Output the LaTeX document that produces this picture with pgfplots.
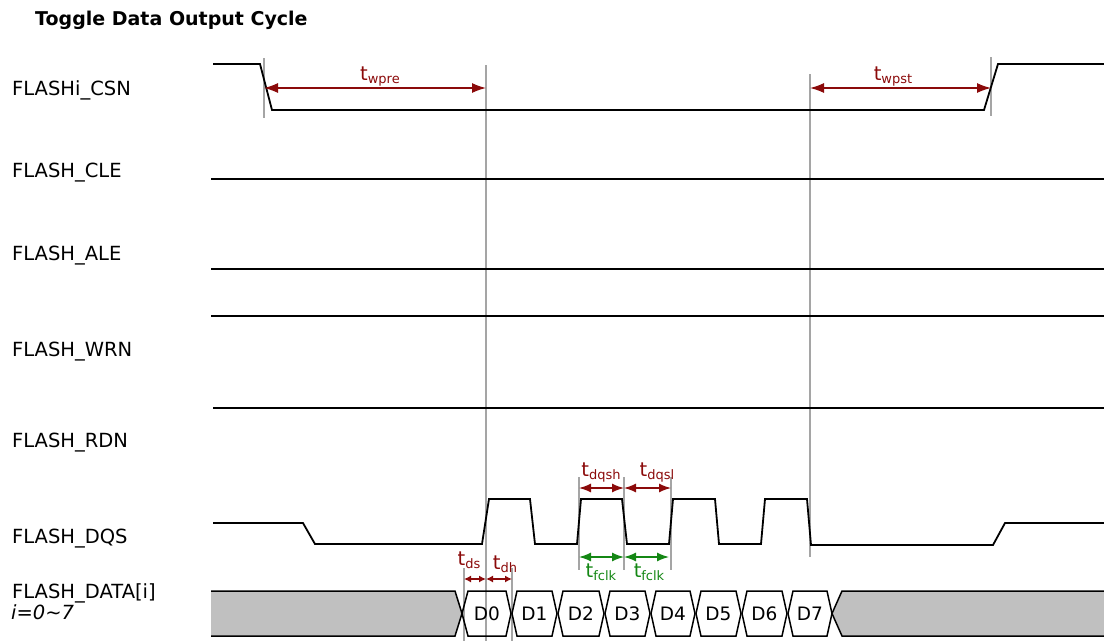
\documentclass[border=0pt]{standalone}
\usepackage{pgfplots}
\pgfplotsset{compat=1.18}
\usepackage{fontspec}
\setmainfont{DejaVu Sans}
\usetikzlibrary{arrows.meta}
\definecolor{dred}{RGB}{139,10,10}
\definecolor{dgreen}{RGB}{20,135,20}
\definecolor{gline}{RGB}{165,165,165}
\definecolor{gfill}{RGB}{192,192,192}
\newcommand{\tl}[1]{t\raisebox{-0.3ex}{\fontsize{13}{13}\selectfont #1}}
\newcommand{\lab}{\fontsize{19.5}{21}\selectfont}
\begin{document}
\begin{tikzpicture}
\begin{axis}[name=ax,width=1104pt,height=641pt,scale only axis,
  xmin=0,xmax=1104,ymin=0,ymax=641,y dir=reverse,
  axis lines=none,clip=false,
  sig/.style={black,line width=1.8pt,line join=miter},
  gl/.style={gline,line width=1.2pt},
  cell/.style={black,line width=1.5pt,line join=miter},
  ar/.style={dred,line width=1.3pt,{Latex[length=14pt,width=10pt]}-{Latex[length=14pt,width=10pt]}},
  ars/.style={dred,line width=1.3pt,{Latex[length=7pt,width=7pt]}-{Latex[length=7pt,width=7pt]}},
  arm/.style={line width=1.4pt,{Latex[length=12pt,width=9pt]}-{Latex[length=12pt,width=9pt]}},
]
% grey guide lines
\addplot[gl] coordinates {(264,58) (264,118)};
\addplot[gl] coordinates {(486,65) (486,641)};
\addplot[gl] coordinates {(810,74) (810,557)};
\addplot[gl] coordinates {(991,57) (991,116)};
\addplot[gl] coordinates {(464,568) (464,641)};
\addplot[gl] coordinates {(512,568) (512,641)};
\addplot[gl] coordinates {(579,477) (579,570)};
\addplot[gl] coordinates {(624,477) (624,570)};
\addplot[gl] coordinates {(671,477) (671,570)};
% signals
\addplot[sig] coordinates {(213,64) (260,64) (272,110) (984,110) (998,64) (1104,64)};
\addplot[sig] coordinates {(211,179) (1104,179)};
\addplot[sig] coordinates {(211,269) (1104,269)};
\addplot[sig] coordinates {(211,316) (1104,316)};
\addplot[sig] coordinates {(213,408) (1104,408)};
\addplot[sig] coordinates {(213,523) (303,523) (315,544) (482,544) (489,499) (530,499) (535,544) (577,544) (581,499) (622,499) (627,544) (669,544) (673,499) (715,499) (719,544) (761,544) (765,499) (807,499) (811,545) (993,545) (1005,523) (1104,523)};
% data bus
\addplot[fill=gfill,draw=none] coordinates {(211,591) (455,591) (462,613.5) (455,636) (211,636) (211,591)};
\addplot[cell] coordinates {(211,591) (455,591) (462,613.5) (455,636) (211,636)};
\addplot[fill=gfill,draw=none] coordinates {(832,613.5) (842,591) (1104,591) (1104,636) (842,636) (832,613.5)};
\addplot[cell] coordinates {(1104,591) (842,591) (832,613.5) (842,636) (1104,636)};
\addplot[cell] coordinates {(462,613.5) (468,591) (506,591) (511,613.5) (506,636) (468,636) (462,613.5)};
\addplot[cell] coordinates {(512,613.5) (517,591) (552,591) (557,613.5) (552,636) (517,636) (512,613.5)};
\addplot[cell] coordinates {(558,613.5) (563,591) (599,591) (604,613.5) (599,636) (563,636) (558,613.5)};
\addplot[cell] coordinates {(605,613.5) (610,591) (645,591) (650,613.5) (645,636) (610,636) (605,613.5)};
\addplot[cell] coordinates {(651,613.5) (656,591) (690,591) (695,613.5) (690,636) (656,636) (651,613.5)};
\addplot[cell] coordinates {(696,613.5) (701,591) (736,591) (741,613.5) (736,636) (701,636) (696,613.5)};
\addplot[cell] coordinates {(742,613.5) (747,591) (782,591) (787,613.5) (782,636) (747,636) (742,613.5)};
\addplot[cell] coordinates {(788,613.5) (793,591) (827,591) (832,613.5) (827,636) (793,636) (788,613.5)};
% arrows
\addplot[ar] coordinates {(264,88) (486,88)};
\addplot[ar] coordinates {(810,88) (991,88)};
\addplot[ars] coordinates {(464,579) (486,579)};
\addplot[ars] coordinates {(486,579) (512,579)};
\addplot[arm,dred] coordinates {(579,488) (624,488)};
\addplot[arm,dred] coordinates {(624,488) (671,488)};
\addplot[arm,dgreen] coordinates {(579,557) (624,557)};
\addplot[arm,dgreen] coordinates {(624,557) (669,557)};
% texts
\node[anchor=base west,inner sep=0pt,font=\fontsize{19}{21}\selectfont\bfseries] at (axis cs:35,25) {Toggle Data Output Cycle};
\node[anchor=base west,inner sep=0pt,font=\lab] at (axis cs:12,95) {FLASHi\_CSN};
\node[anchor=base west,inner sep=0pt,font=\lab] at (axis cs:12,177) {FLASH\_CLE};
\node[anchor=base west,inner sep=0pt,font=\lab] at (axis cs:12,260) {FLASH\_ALE};
\node[anchor=base west,inner sep=0pt,font=\lab] at (axis cs:12,356) {FLASH\_WRN};
\node[anchor=base west,inner sep=0pt,font=\lab] at (axis cs:12,447) {FLASH\_RDN};
\node[anchor=base west,inner sep=0pt,font=\lab] at (axis cs:12,543) {FLASH\_DQS};
\node[anchor=base west,inner sep=0pt,font=\lab] at (axis cs:12,598) {FLASH\_DATA[i]};
\node[anchor=base west,inner sep=0pt,font=\lab\itshape] at (axis cs:11,619) {i=0\textasciitilde 7};
\node[anchor=base,font=\lab,text=dred] at (axis cs:380,80) {\tl{wpre}};
\node[anchor=base,font=\lab,text=dred] at (axis cs:893,80) {\tl{wpst}};
\node[anchor=base,font=\lab,text=dred] at (axis cs:601,476) {\tl{dqsh}};
\node[anchor=base,font=\lab,text=dred] at (axis cs:657,476) {\tl{dqsl}};
\node[anchor=base,font=\lab,text=dred] at (axis cs:469,565) {\tl{ds}};
\node[anchor=base,font=\lab,text=dred] at (axis cs:505,569) {\tl{dh}};
\node[anchor=base,font=\lab,text=dgreen] at (axis cs:601,577) {\tl{fclk}};
\node[anchor=base,font=\lab,text=dgreen] at (axis cs:649,577) {\tl{fclk}};
\node[font=\fontsize{18.5}{20}\selectfont] at (axis cs:487,613.5) {D0};
\node[font=\fontsize{18.5}{20}\selectfont] at (axis cs:534.5,613.5) {D1};
\node[font=\fontsize{18.5}{20}\selectfont] at (axis cs:581,613.5) {D2};
\node[font=\fontsize{18.5}{20}\selectfont] at (axis cs:627.5,613.5) {D3};
\node[font=\fontsize{18.5}{20}\selectfont] at (axis cs:673,613.5) {D4};
\node[font=\fontsize{18.5}{20}\selectfont] at (axis cs:718.5,613.5) {D5};
\node[font=\fontsize{18.5}{20}\selectfont] at (axis cs:764.5,613.5) {D6};
\node[font=\fontsize{18.5}{20}\selectfont] at (axis cs:810,613.5) {D7};
\end{axis}
\pgfresetboundingbox
\path[use as bounding box] (ax.south west) rectangle (ax.north east);
\end{tikzpicture}
\end{document}
